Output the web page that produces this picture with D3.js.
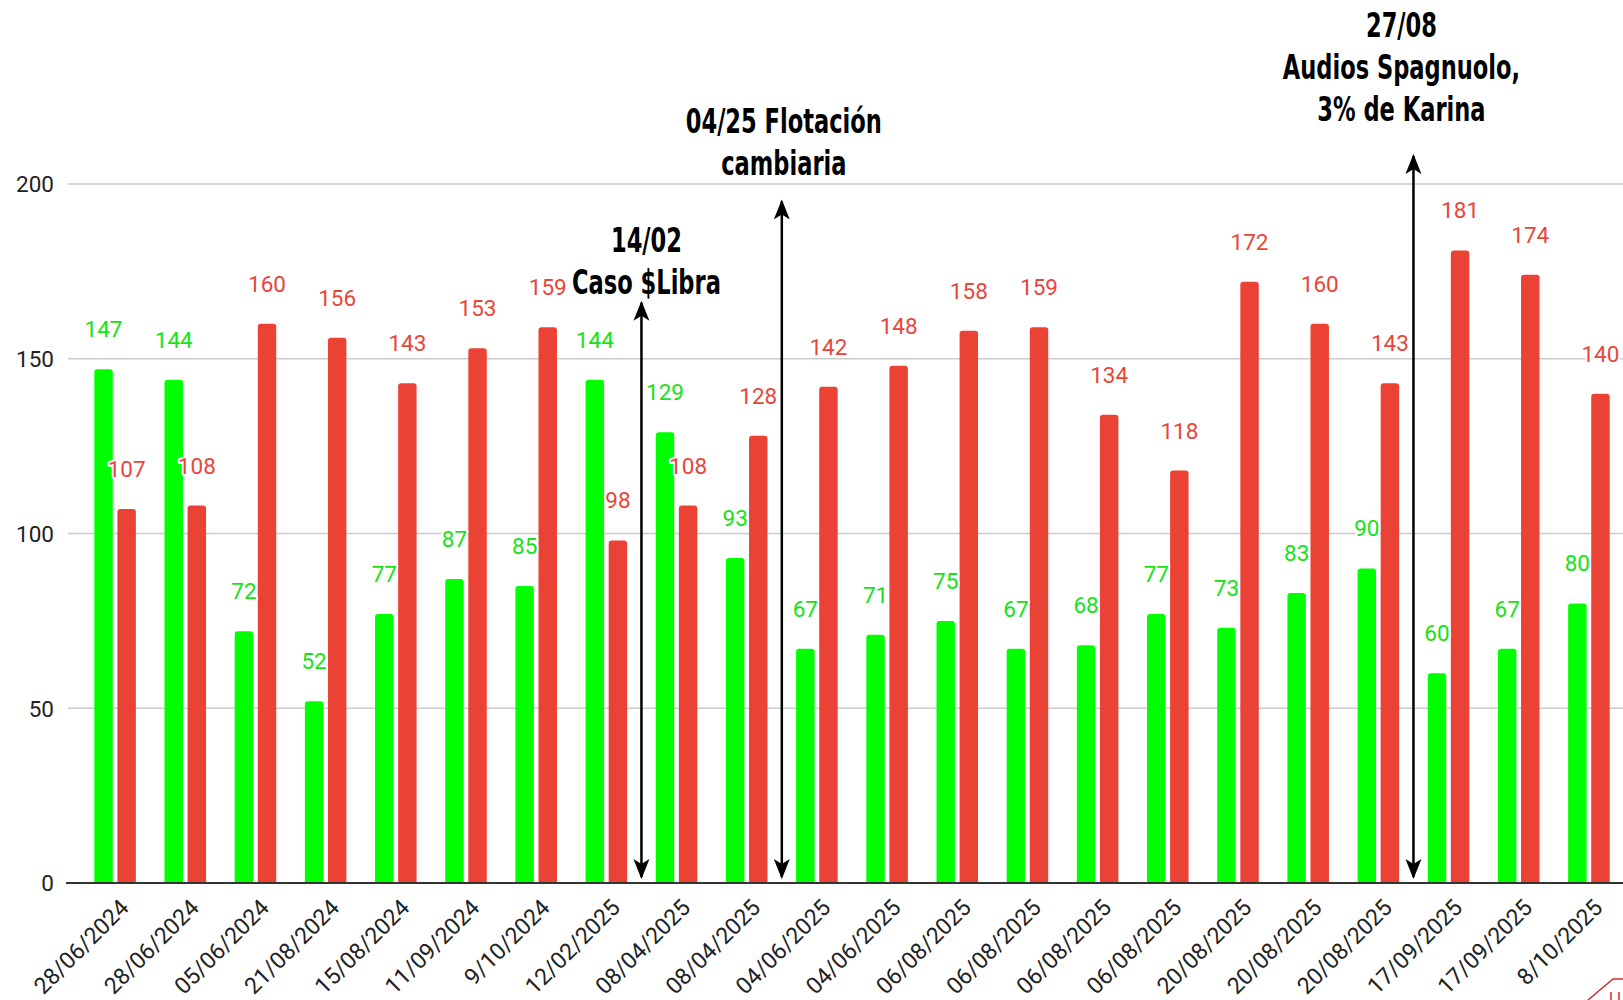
<!DOCTYPE html>
<html><head><meta charset="utf-8">
<script src="https://cdn.jsdelivr.net/npm/d3@7"></script>
<style>
body{margin:0;background:#fff;overflow:hidden;}
svg{display:block;}
</style>
</head><body>
<svg id="chart" width="1623" height="1000"></svg>
<script>
const categories = ["28/06/2024","28/06/2024","05/06/2024","21/08/2024","15/08/2024","11/09/2024","9/10/2024","12/02/2025","08/04/2025","08/04/2025","04/06/2025","04/06/2025","06/08/2025","06/08/2025","06/08/2025","06/08/2025","20/08/2025","20/08/2025","20/08/2025","17/09/2025","17/09/2025","8/10/2025"];
const greenValues = [147,144,72,52,77,87,85,144,129,93,67,71,75,67,68,77,73,83,90,60,67,80];
const redValues = [107,108,160,156,143,153,159,98,108,128,142,148,158,159,134,118,172,160,143,181,174,140];
const yTicks = [0,50,100,150,200];
const annotationLines = [["14/02","Caso $Libra"],["04/25 Flotación","cambiaria"],["27/08","Audios Spagnuolo,","3% de Karina"]];
const annotationIndex = [8,10,19];       // arrow placed at start of this category
const annotationTextValue = [180.5,214.6,242]; // first line baseline (in value units)
const annotationArrowTop = [166,195,208];
const annotationArrowBottom = [1.7,1.7,1.7];

const svg = d3.select("#chart");
const W = 1623, H = 1000;
const x0 = 80, x1 = 1624, yTop = 184, yBottom = 883;

const x = d3.scaleBand().domain(d3.range(categories.length)).range([x0, x1]).padding(0);
const inner = d3.scaleBand().domain(["g","r"]).range([0, x.bandwidth()]).paddingInner(0.2).paddingOuter(0.62);
const y = d3.scaleLinear().domain([0,200]).range([yBottom, yTop]);

const GREEN = "#00ff00", RED = "#ea4335";
const GREEN_TXT = "#14e414", RED_TXT = "#e8463b";

// gridlines
svg.append("g").selectAll("line").data(yTicks.filter(d=>d>0)).join("line")
  .attr("x1", 68).attr("x2", W).attr("y1", d=>y(d)).attr("y2", d=>y(d))
  .attr("stroke", "#cccccc").attr("stroke-width", 1.5);

// y axis via d3.axisLeft
const yAxis = d3.axisLeft(y).tickValues(yTicks).tickSize(0).tickPadding(0);
const gy = svg.append("g").attr("transform", "translate(54,0)").call(yAxis);
gy.select(".domain").remove();
gy.selectAll("text").attr("font-family","Roboto, Arial, sans-serif").attr("font-size", 22.5)
  .attr("fill","#222").attr("text-anchor","end").attr("dy","0.35em");

// bars with rounded tops
function barPath(xl, w, yt, yb, r) {
  r = Math.min(r, (yb-yt), w/2);
  return `M${xl},${yb}V${yt+r}Q${xl},${yt} ${xl+r},${yt}H${xl+w-r}Q${xl+w},${yt} ${xl+w},${yt+r}V${yb}Z`;
}
const series = [{key:"g", values: greenValues, color: GREEN, txt: GREEN_TXT},
                {key:"r", values: redValues, color: RED, txt: RED_TXT}];
const bw = inner.bandwidth();
series.forEach(s => {
  svg.append("g").selectAll("path").data(s.values).join("path")
    .attr("d", (d,i) => barPath(x(i)+inner(s.key), bw, y(d), y(0), 3))
    .attr("fill", s.color);
});

// zero axis line
svg.append("line").attr("x1",66).attr("x2",W).attr("y1",y(0)).attr("y2",y(0))
  .attr("stroke","#333").attr("stroke-width",2);

// value labels
series.forEach(s => {
  svg.append("g").selectAll("text").data(s.values).join("text")
    .attr("x", (d,i) => x(i)+inner(s.key)+bw/2)
    .attr("y", d => y(d) - 32)
    .attr("text-anchor","middle")
    .attr("font-family","Roboto, Arial, sans-serif").attr("font-size",22.5)
    .attr("fill", s.txt)
    .attr("stroke","#fff").attr("stroke-width",4).attr("stroke-linejoin","round")
    .attr("paint-order","stroke")
    .text(d => d);
});

// x axis labels
const xAxis = d3.axisBottom(x).tickFormat(i => categories[i]).tickSize(0).tickPadding(0);
const gx = svg.append("g").attr("transform", `translate(0,${y(0)})`).call(xAxis);
gx.select(".domain").remove();
gx.selectAll(".tick text")
  .attr("font-family","Roboto, Arial, sans-serif").attr("font-size",23).attr("fill","#222")
  .attr("text-anchor","end").attr("dy",null).attr("y",null)
  .attr("transform","translate(15,26) rotate(-45)");

// annotations
const defs = svg.append("defs");
defs.append("marker").attr("id","ah").attr("viewBox","0 0 20 20").attr("refX",18).attr("refY",10)
  .attr("markerWidth",20).attr("markerHeight",20).attr("markerUnits","userSpaceOnUse")
  .attr("orient","auto-start-reverse")
  .append("path").attr("d","M0,2 L20,10 L0,18 L5,10 Z").attr("fill","#000");

const annG = svg.append("g");
annotationLines.forEach((lines, k) => {
  const ax = x(annotationIndex[k]);
  annG.append("line").attr("x1",ax).attr("x2",ax)
    .attr("y1", y(annotationArrowBottom[k])).attr("y2", y(annotationArrowTop[k]))
    .attr("stroke","#000").attr("stroke-width",2.5)
    .attr("marker-start","url(#ah)").attr("marker-end","url(#ah)");
  const tx = ax + [5,2,-12][k];
  const t = annG.append("text").attr("text-anchor","middle")
    .attr("transform", `translate(${tx},0) scale(0.76,1)`)
    .attr("font-family","'DejaVu Sans Condensed','DejaVu Sans',sans-serif")
    .attr("font-weight","bold").attr("font-size",33).attr("fill","#000");
  lines.forEach((ln, j) => {
    t.append("tspan").attr("x", 0).attr("y", y(annotationTextValue[k]) + j*42).text(ln);
  });
});

// small corner logo fragment
svg.append("path").attr("d","M1588,1000 L1613,979 L1623,979 M1611,992 L1611,1000 M1619,992 L1619,1000")
  .attr("fill","none").attr("stroke","#d42a36").attr("stroke-width",1.5);
</script>
</body></html>
